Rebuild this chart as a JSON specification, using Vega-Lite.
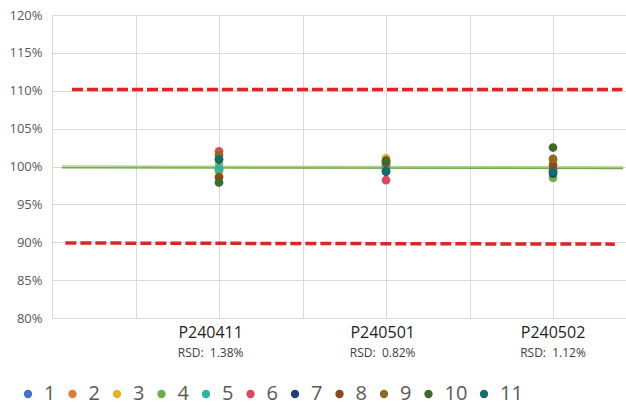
{
  "$schema": "https://vega.github.io/schema/vega-lite/v6.json",
  "autosize": "none",
  "width": 574,
  "height": 303,
  "padding": {"left": 52, "top": 15, "right": 0, "bottom": 89},
  "background": "white",
  "config": {
    "view": {"stroke": null},
    "font": "Open Sans",
    "axisY": {"values": [0.8, 0.85, 0.9, 0.95, 1.0, 1.05, 1.1, 1.15, 1.2], "format": ".0%", "grid": true, "gridColor": "#D9D9D9", "domain": false, "ticks": false, "labelPadding": 10, "labelFontSize": 13, "labelColor": "#595959", "labelFont": "Open Sans", "title": null}
  },
  "datasets": {
    "points": [
      {"batch": "P240411", "x": 2, "series": 1, "v": 0.996},
      {"batch": "P240411", "x": 2, "series": 2, "v": 0.986},
      {"batch": "P240411", "x": 2, "series": 3, "v": 1.003},
      {"batch": "P240411", "x": 2, "series": 4, "v": 0.994},
      {"batch": "P240411", "x": 2, "series": 5, "v": 0.998},
      {"batch": "P240411", "x": 2, "series": 6, "v": 1.020},
      {"batch": "P240411", "x": 2, "series": 7, "v": 1.010},
      {"batch": "P240411", "x": 2, "series": 8, "v": 0.986},
      {"batch": "P240411", "x": 2, "series": 9, "v": 1.015},
      {"batch": "P240411", "x": 2, "series": 10, "v": 0.979},
      {"batch": "P240411", "x": 2, "series": 11, "v": 1.009},
      {"batch": "P240501", "x": 4, "series": 1, "v": 1.000},
      {"batch": "P240501", "x": 4, "series": 2, "v": 1.004},
      {"batch": "P240501", "x": 4, "series": 3, "v": 1.011},
      {"batch": "P240501", "x": 4, "series": 4, "v": 1.002},
      {"batch": "P240501", "x": 4, "series": 5, "v": 0.996},
      {"batch": "P240501", "x": 4, "series": 6, "v": 0.982},
      {"batch": "P240501", "x": 4, "series": 7, "v": 0.993},
      {"batch": "P240501", "x": 4, "series": 8, "v": 1.005},
      {"batch": "P240501", "x": 4, "series": 9, "v": 1.008},
      {"batch": "P240501", "x": 4, "series": 10, "v": 1.007},
      {"batch": "P240501", "x": 4, "series": 11, "v": 0.994},
      {"batch": "P240502", "x": 6, "series": 1, "v": 0.996},
      {"batch": "P240502", "x": 6, "series": 2, "v": 1.009},
      {"batch": "P240502", "x": 6, "series": 3, "v": 1.005},
      {"batch": "P240502", "x": 6, "series": 4, "v": 0.985},
      {"batch": "P240502", "x": 6, "series": 5, "v": 0.993},
      {"batch": "P240502", "x": 6, "series": 6, "v": 0.997},
      {"batch": "P240502", "x": 6, "series": 7, "v": 0.991},
      {"batch": "P240502", "x": 6, "series": 8, "v": 1.002},
      {"batch": "P240502", "x": 6, "series": 9, "v": 1.010},
      {"batch": "P240502", "x": 6, "series": 10, "v": 1.025},
      {"batch": "P240502", "x": 6, "series": 11, "v": 0.993}
    ],
    "limits": [
      {"line": "upper", "x": 0.24, "v": 1.1015},
      {"line": "upper", "x": 6.83, "v": 1.1015},
      {"line": "lower", "x": 0.16, "v": 0.899},
      {"line": "lower", "x": 6.74, "v": 0.8975}
    ],
    "meanA": [
      {"x": 0.12, "v": 1.0005},
      {"x": 6.84, "v": 0.9995}
    ],
    "meanB": [
      {"x": 0.12, "v": 0.9985},
      {"x": 6.84, "v": 0.9975}
    ],
    "cats": [
      {"x": 1.9, "name": "P240411", "rsd": "RSD:\u00a0\u00a01.38%"},
      {"x": 3.96, "name": "P240501", "rsd": "RSD:\u00a0\u00a00.82%"},
      {"x": 6.0, "name": "P240502", "rsd": "RSD:\u00a0\u00a01.12%"}
    ]
  },
  "encoding": {
    "x": {
      "field": "x",
      "type": "quantitative",
      "scale": {"domain": [0, 6.874], "nice": false, "zero": false},
      "axis": {"values": [0, 1, 2, 3, 4, 5, 6], "grid": true, "gridColor": "#D9D9D9", "labels": false, "ticks": false, "domain": false, "title": null}
    }
  },
  "layer": [
    {
      "data": {"name": "limits"},
      "mark": {"type": "line", "color": "#E02424", "strokeWidth": 3.5, "strokeDash": [11, 4]},
      "encoding": {
        "y": {"field": "v", "type": "quantitative", "scale": {"domain": [0.8, 1.2], "nice": false, "zero": false}},
        "detail": {"field": "line"}
      }
    },
    {
      "data": {"name": "meanA"},
      "mark": {"type": "line", "color": "#A9D18E", "strokeWidth": 1.5},
      "encoding": {"y": {"field": "v", "type": "quantitative"}}
    },
    {
      "data": {"name": "meanB"},
      "mark": {"type": "line", "color": "#70AD47", "strokeWidth": 1.5},
      "encoding": {"y": {"field": "v", "type": "quantitative"}}
    },
    {
      "data": {"name": "points"},
      "mark": {"type": "point", "shape": "circle", "filled": true, "opacity": 1, "size": 75},
      "encoding": {
        "y": {"field": "v", "type": "quantitative"},
        "color": {
          "field": "series",
          "type": "nominal",
          "scale": {
            "domain": [1, 2, 3, 4, 5, 6, 7, 8, 9, 10, 11],
            "range": ["#4472C4", "#E07B39", "#E8B02A", "#70AD47", "#2EB3A6", "#D94A5C", "#1F3D7A", "#8E4A1E", "#8C6B20", "#3E6B2B", "#176B68"]
          },
          "legend": {
            "title": null,
            "orient": "none",
            "legendX": -34,
            "legendY": 369,
            "direction": "horizontal",
            "columns": 11,
            "gridAlign": "each",
            "symbolType": "circle",
            "symbolSize": 70,
            "symbolStrokeWidth": 0,
            "labelFontSize": 20,
            "labelFont": "Open Sans",
            "labelColor": "#595959",
            "labelOffset": 6,
            "columnPadding": 6.5
          }
        }
      }
    },
    {
      "data": {"name": "cats"},
      "mark": {"type": "text", "fontSize": 16, "color": "#1F1F1F", "dy": 20, "baseline": "alphabetic", "font": "Open Sans", "clip": false},
      "encoding": {"y": {"datum": 0.8, "type": "quantitative"}, "text": {"field": "name", "type": "nominal"}}
    },
    {
      "data": {"name": "cats"},
      "mark": {"type": "text", "fontSize": 12, "color": "#404040", "dy": 38.5, "baseline": "alphabetic", "font": "Open Sans", "clip": false},
      "encoding": {"y": {"datum": 0.8, "type": "quantitative"}, "text": {"field": "rsd", "type": "nominal"}}
    }
  ]
}
